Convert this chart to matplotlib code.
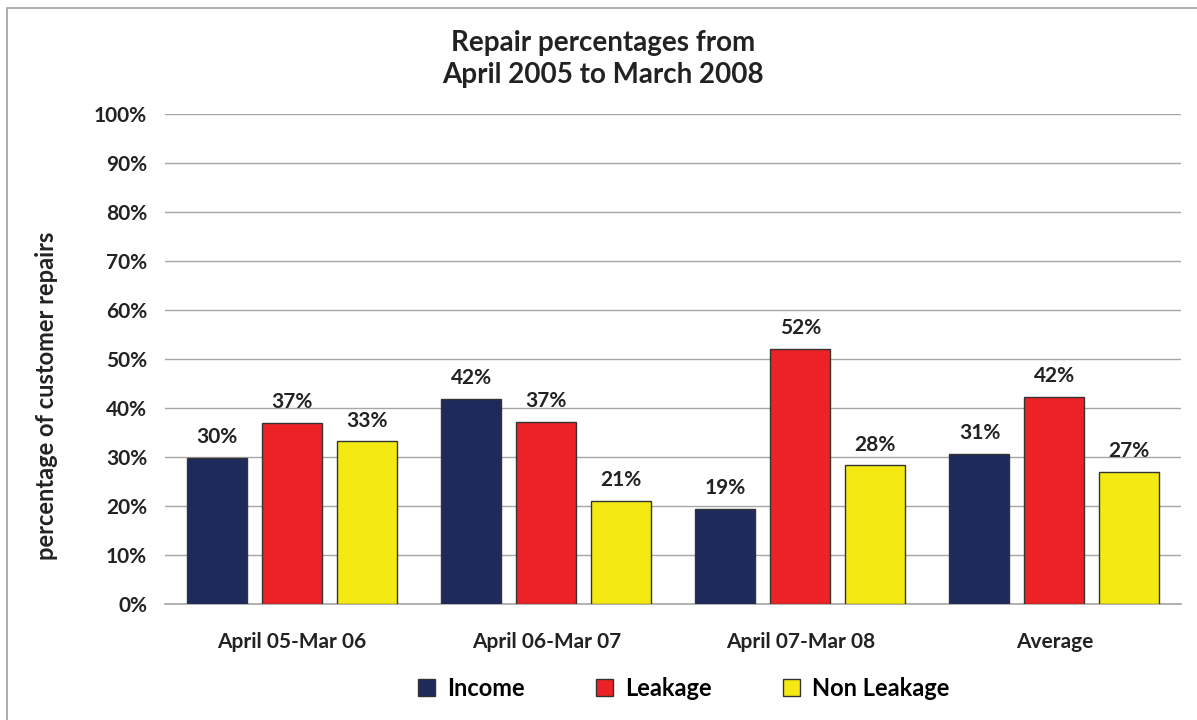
import numpy as np
import matplotlib.pyplot as plt
from matplotlib.patches import Rectangle

plt.rcParams['font.family'] = ['Lato', 'DejaVu Sans']

periods = ['April 05-Mar 06', 'April 06-Mar 07', 'April 07-Mar 08', 'Average']
income = [29.8, 41.8, 19.4, 30.6]
leakage = [36.9, 37.1, 52.0, 42.2]
non_leakage = [33.2, 21.0, 28.3, 26.9]

series = [('Income', income, '#1f2a5c'),
          ('Leakage', leakage, '#ec2227'),
          ('Non Leakage', non_leakage, '#f5e914')]

fig = plt.figure(figsize=(11.97, 7.2), dpi=100)
ax = fig.add_axes([0.138, 0.161, 0.849, 0.681])

# thin grey frame round the whole chart
fig.patches.append(Rectangle((7 / 1197, -0.1), 1.2, 0.1 + 1 - 8 / 720,
                             transform=fig.transFigure, fill=False,
                             edgecolor='#a0a0a0', linewidth=1.2))

x = np.arange(len(periods))
width = 0.236
step = 0.295
for i, (name, vals, color) in enumerate(series):
    pos = x + (i - 1) * step
    bars = ax.bar(pos, vals, width, color=color, edgecolor='#333333',
                  linewidth=1.0, label=name, zorder=3)
    for b, v in zip(bars, vals):
        ax.text(b.get_x() + b.get_width() / 2, v + 2.2, f'{v:.0f}%',
                ha='center', va='bottom', fontsize=15, fontweight='bold',
                color='#222222')

ax.set_xlim(-0.5, 3.5)
ax.set_ylim(0, 100)
ax.set_yticks(np.arange(0, 101, 10))
ax.set_yticklabels([f'{t}%' for t in range(0, 101, 10)])
ax.set_xticks(x)
ax.set_xticklabels(periods)
ax.tick_params(axis='both', length=0, colors='#222222')
ax.tick_params(axis='y', pad=13, labelsize=15)
ax.tick_params(axis='x', pad=20, labelsize=15)
for lbl in ax.get_xticklabels() + ax.get_yticklabels():
    lbl.set_fontweight('bold')

ax.grid(axis='y', color='#a6a6a6', linewidth=1.0, zorder=0)
for side in ['top', 'right', 'left']:
    ax.spines[side].set_visible(False)
ax.spines['bottom'].set_color('#a6a6a6')
ax.spines['bottom'].set_linewidth(1.2)

ax.set_ylabel('percentage of customer repairs', fontsize=17, fontweight='bold',
              color='#222222')
ax.yaxis.set_label_coords(-0.105, 0.424)
fig.text(603 / 1197, 1 - 59 / 720, 'Repair percentages from\nApril 2005 to March 2008',
         ha='center', va='center', fontsize=20, fontweight='bold',
         color='#222222', linespacing=1.25)

ax.legend(loc='upper center', bbox_to_anchor=(0.51, -0.105), ncol=3, frameon=False,
          prop={'weight': 'bold', 'size': 17}, handlelength=0.75,
          handleheight=0.75, columnspacing=3.0, handletextpad=0.5)

fig.savefig('out.png', dpi=100)
